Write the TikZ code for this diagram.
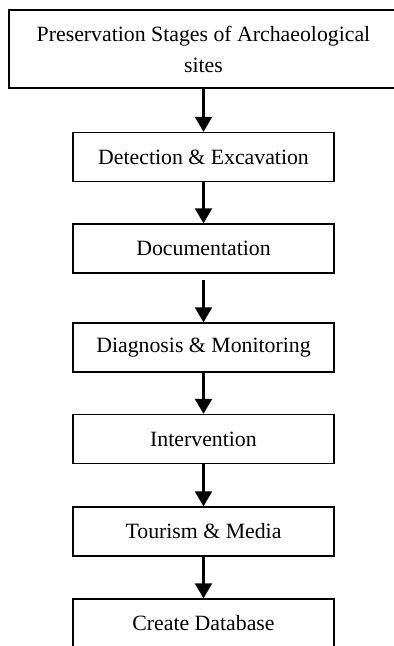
\documentclass[tikz,border=0pt]{standalone}
\usepackage{fontspec}
\setmainfont{Liberation Serif}
\usetikzlibrary{arrows.meta}

\tikzset{
  stagebox/.style={draw=black, line width=1.4pt, rectangle, fill=white,
    minimum width=261pt, minimum height=49pt, inner sep=0pt,
    font=\fontsize{21.8}{31}\selectfont, align=center},
  titlebox/.style={stagebox, line width=1.8pt, minimum width=389pt, minimum height=78pt},
  flow/.style={line width=2.3pt, -{Triangle[width=17pt,length=15pt]}}
}

\begin{document}
\begin{tikzpicture}[x=1pt, y=-1pt]
  \useasboundingbox (0,0) rectangle (394,646);
  \clip (0,0) rectangle (394,646);

  % stages, top to bottom
  \node[titlebox] (top) at (203.5,49) {Preservation Stages of Archaeological\\sites};
  \node[stagebox] (det) at (203.5,157) {Detection \& Excavation};
  \node[stagebox] (doc) at (203.5,248.5) {Documentation};
  \node[stagebox] (dia) at (203.5,347.5) {Diagnosis \& Monitoring};
  \node[stagebox] (int) at (203.5,439) {Intervention};
  \node[stagebox] (tou) at (203.5,531.5) {Tourism \& Media};
  \node[stagebox] (db)  at (203.5,623.5) {Create Database};

  % connectors
  \draw[flow] (top) -- (det);
  \draw[flow] (det) -- (doc);
  \draw[flow, shorten <=6pt] (doc) -- (dia);
  \draw[flow] (dia) -- (int);
  \draw[flow] (int) -- (tou);
  \draw[flow] (tou) -- (db);
\end{tikzpicture}
\end{document}
